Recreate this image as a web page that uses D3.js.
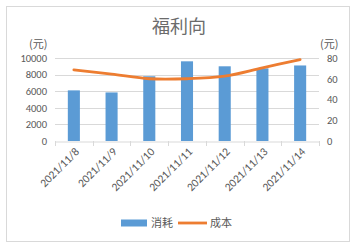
<!DOCTYPE html>
<html>
<head>
<meta charset="utf-8">
<script src="https://cdn.jsdelivr.net/npm/d3@7/dist/d3.min.js"></script>
<style>
  body { margin: 0; background: #fff; }
  text { font-family: "Noto Sans CJK SC", "DejaVu Sans", sans-serif; fill: #595959; }
  .tick text { font-family: Calibri, "Liberation Sans", "Noto Sans", sans-serif; font-size: 10.5px; }
  .xaxis .tick text { font-size: 11.5px; }
</style>
</head>
<body>
<script>
var dates = ["2021/11/8", "2021/11/9", "2021/11/10", "2021/11/11", "2021/11/12", "2021/11/13", "2021/11/14"]
var usage = [6100, 5850, 7800, 9600, 9000, 8750, 9100]   // 消耗
var cost = [68.5, 64.5, 60, 60, 62.5, 70.5, 78.5]        // 成本
var leftTicks = [0, 2000, 4000, 6000, 8000, 10000]
var rightTicks = [0, 20, 40, 60, 80]

var w = 358
var h = 250

var plotL = 55, plotR = 319, plotT = 58, plotB = 141

var svg = d3.select("body").append("svg")
  .attr("width", w)
  .attr("height", h)

// chart frame
svg.append("rect")
  .attr("x", 6.5).attr("y", 6.5)
  .attr("width", 343).attr("height", 235)
  .attr("fill", "#fff")
  .attr("stroke", "#d9d9d9")

var x = d3.scaleBand().domain(dates).range([plotL, plotR]).paddingInner(0.68).paddingOuter(0.34)
var xPts = d3.scalePoint().domain(dates).range([plotL, plotR]).padding(0.5)
var yL = d3.scaleLinear().domain([0, 10000]).range([plotB, plotT])
var yR = d3.scaleLinear().domain([0, 80]).range([plotB, plotT])

// gridlines
svg.append("g")
  .selectAll("line")
  .data(leftTicks.slice(1))
  .enter().append("line")
  .attr("x1", plotL).attr("x2", plotR)
  .attr("y1", function (d) { return Math.round(yL(d)) + 0.5 })
  .attr("y2", function (d) { return Math.round(yL(d)) + 0.5 })
  .attr("stroke", "#d9d9d9")

// bars
svg.append("g")
  .selectAll("rect")
  .data(usage)
  .enter().append("rect")
  .attr("x", function (d, i) { return x(dates[i]) })
  .attr("y", function (d) { return yL(d) })
  .attr("width", x.bandwidth())
  .attr("height", function (d) { return plotB - yL(d) })
  .attr("fill", "#5b9bd5")

// cost line
var line = d3.line()
  .x(function (d, i) { return xPts(dates[i]) })
  .y(function (d) { return yR(d) })
  .curve(d3.curveCatmullRom.alpha(0.5))

svg.append("path")
  .datum(cost)
  .attr("d", line)
  .attr("fill", "none")
  .attr("stroke", "#ed7d31")
  .attr("stroke-width", 2.8)
  .attr("stroke-linecap", "round")

// left axis
var gL = svg.append("g")
  .attr("transform", "translate(" + (plotL - 8) + ",0)")
  .call(d3.axisLeft(yL).tickValues(leftTicks).tickFormat(d3.format("d")).tickSize(0).tickPadding(0))
gL.select(".domain").remove()

// right axis
var gR = svg.append("g")
  .attr("transform", "translate(" + (plotR + 8) + ",0)")
  .call(d3.axisRight(yR).tickValues(rightTicks).tickFormat(d3.format("d")).tickSize(0).tickPadding(0))
gR.select(".domain").remove()

svg.selectAll(".tick text").attr("fill", "#595959")

// bottom axis
var gB = svg.append("g")
  .attr("class", "xaxis")
  .attr("transform", "translate(0," + (plotB + 0.5) + ")")
  .call(d3.axisBottom(x).tickSize(0).tickPadding(0))
gB.select(".domain").attr("stroke", "#d9d9d9")
gB.selectAll(".tick line").remove()
gB.selectAll(".tick text")
  .attr("text-anchor", "end")
  .attr("dy", 0)
  .attr("y", 0)
  .attr("transform", "translate(6,11) rotate(-45)")
  .attr("fill", "#595959")

// category separators
svg.append("g")
  .selectAll("line")
  .data(d3.range(dates.length + 1))
  .enter().append("line")
  .attr("x1", function (i) { return Math.round(plotL + i * (plotR - plotL) / dates.length) + 0.5 })
  .attr("x2", function (i) { return Math.round(plotL + i * (plotR - plotL) / dates.length) + 0.5 })
  .attr("y1", plotB).attr("y2", plotB + 5)
  .attr("stroke", "#d9d9d9")

// title and units
svg.append("text")
  .attr("x", 179).attr("y", 33)
  .attr("text-anchor", "middle")
  .attr("font-size", 18)
  .attr("fill", "#6b6b6b")
  .style("fill", "#6b6b6b")
  .text("福利向")

svg.append("text")
  .attr("x", 29).attr("y", 48)
  .attr("font-size", 11)
  .text("(元)")

svg.append("text")
  .attr("x", 320).attr("y", 48)
  .attr("font-size", 11)
  .text("(元)")

// legend
var lg = svg.append("g").attr("transform", "translate(0,223)")
lg.append("rect").attr("x", 121).attr("y", -3.5).attr("width", 26).attr("height", 7).attr("fill", "#5b9bd5")
lg.append("text").attr("x", 151).attr("y", 4).attr("font-size", 11).text("消耗")
lg.append("line").attr("x1", 178).attr("x2", 207).attr("y1", 0).attr("y2", 0)
  .attr("stroke", "#ed7d31").attr("stroke-width", 2.8)
lg.append("text").attr("x", 210).attr("y", 4).attr("font-size", 11).text("成本")
</script>
</body>
</html>
